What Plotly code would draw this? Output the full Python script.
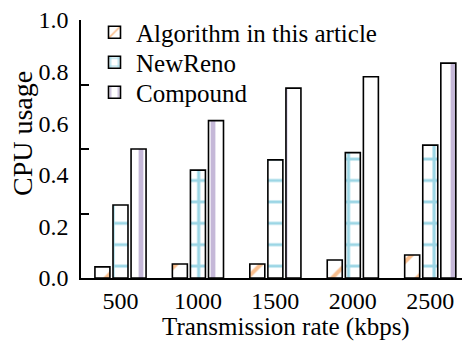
import plotly.graph_objects as go

rates = ["500", "1000", "1500", "2000", "2500"]
alg = [0.043, 0.054, 0.054, 0.07, 0.089]
newreno = [0.283, 0.418, 0.458, 0.486, 0.515]
compound = [0.50, 0.61, 0.736, 0.78, 0.833]
ytick_vals = [0.0, 0.2, 0.4, 0.6, 0.8, 1.0]
ymark_vals = [0.0, 0.25, 0.5, 0.75, 1.0]

FONT = "Liberation Serif, Times New Roman, serif"
W, H = 462, 345
L, R, T, B = 81, 0, 20, 67
PW, PH = W - L - R, H - T - B


def px_x(x):
    return (x - L) / PW


def px_y(y):
    return (H - B - y) / PH


fig = go.Figure()
fig.add_trace(go.Bar(
    x=rates, y=alg, name="Algorithm in this article", legend="legend",
    marker=dict(color="white", line=dict(color="black", width=1.6),
                pattern=dict(shape="/", fgcolor="#F5801E", bgcolor="white", size=20, solidity=0.2)),
))
fig.add_trace(go.Bar(
    x=rates, y=newreno, name="NewReno", legend="legend2",
    marker=dict(color="white", line=dict(color="black", width=1.6),
                pattern=dict(shape="+", fgcolor="#3AAECB", bgcolor="white", size=21.4, solidity=0.27)),
))
fig.add_trace(go.Bar(
    x=rates, y=compound, name="Compound", legend="legend3",
    marker=dict(color="white", line=dict(color="black", width=1.6),
                pattern=dict(shape="|", fgcolor="#8C72B2", bgcolor="white", size=24, solidity=0.2)),
))
# invisible trace to carry the quarter tick marks axis
fig.add_trace(go.Scatter(x=[rates[0]], y=[0], yaxis="y2", mode="markers",
                         marker=dict(opacity=0), showlegend=False, hoverinfo="skip"))

leg_common = dict(x=px_x(93), xanchor="left", yanchor="middle", bgcolor="rgba(0,0,0,0)",
                  font=dict(family=FONT, size=25, color="black"), itemwidth=33)

fig.update_layout(
    width=W, height=H,
    margin=dict(l=L, r=R, t=T, b=B),
    paper_bgcolor="white", plot_bgcolor="white",
    font=dict(family=FONT, size=22, color="black"),
    barmode="group", bargap=0.3, bargroupgap=0.17,
    showlegend=True,
    legend=dict(y=px_y(32.5), **leg_common),
    legend2=dict(y=px_y(62.5), **leg_common),
    legend3=dict(y=px_y(92.5), **leg_common),
    xaxis=dict(type="category", range=[-0.51, 4.41], showline=True, linecolor="black",
               linewidth=1.6, ticks="", showgrid=False, zeroline=False,
               tickfont=dict(family=FONT, size=24, color="black")),
    yaxis=dict(range=[0, 1.0], tickvals=ytick_vals, tickformat=".1f", ticks="",
               showline=True, linecolor="black", linewidth=1.6, showgrid=False,
               zeroline=False, tickfont=dict(family=FONT, size=24, color="black"),
               ticklabelstandoff=6),
    yaxis2=dict(range=[0, 1.0], overlaying="y", side="left", tickvals=ymark_vals,
                ticks="inside", ticklen=8, tickwidth=1.6, tickcolor="black",
                showticklabels=False, showline=False, showgrid=False, zeroline=False),
    annotations=[
        dict(text="CPU usage", xref="paper", yref="paper",
             x=px_x(22), y=px_y(133),
             textangle=-90, showarrow=False, xanchor="center", yanchor="middle",
             font=dict(family=FONT, size=28, color="black")),
        dict(text="Transmission rate (kbps)", xref="paper", yref="paper",
             x=px_x(286), y=px_y(327),
             showarrow=False, xanchor="center", yanchor="middle",
             font=dict(family=FONT, size=25, color="black")),
    ],
)

fig.write_html("out.html")
